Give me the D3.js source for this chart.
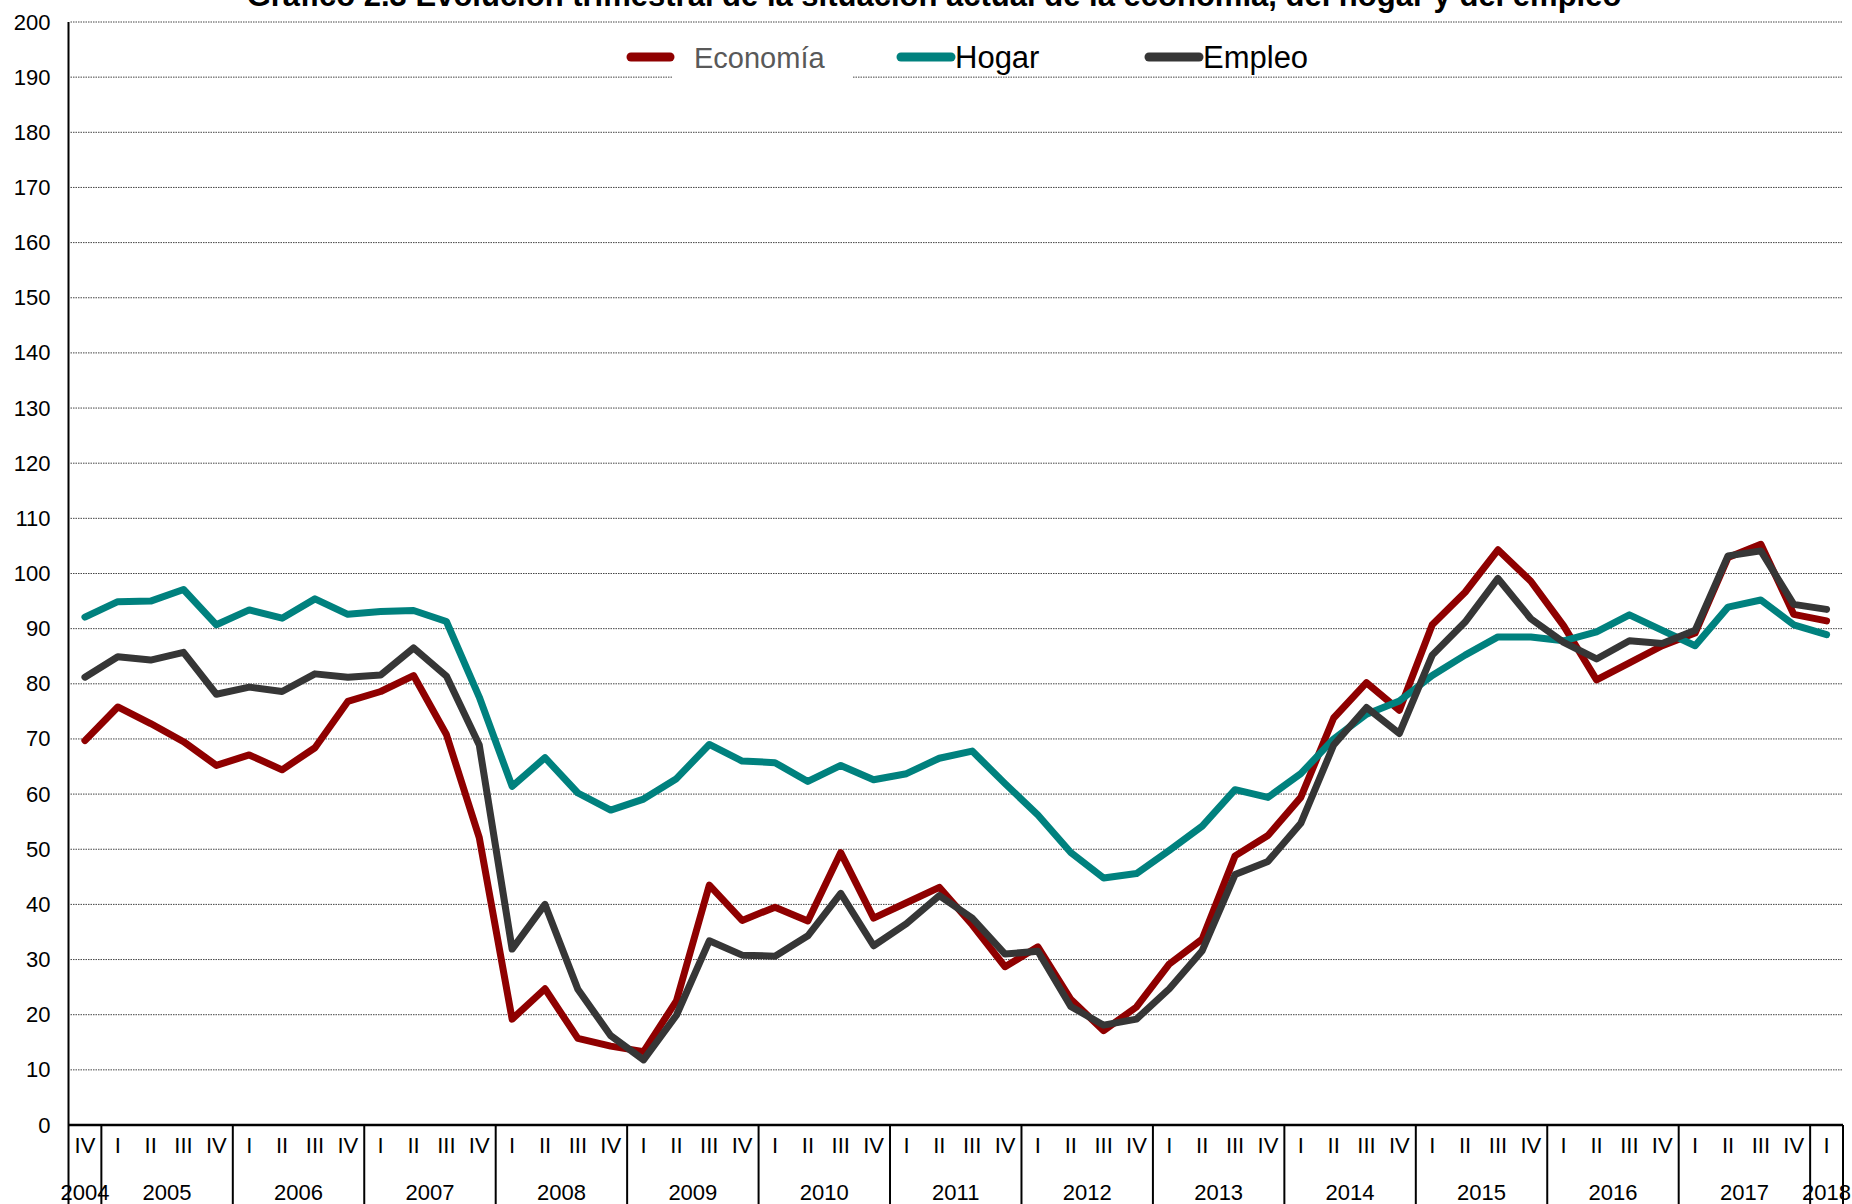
<!DOCTYPE html>
<html lang="es">
<head>
  <meta charset="UTF-8">
  <title>Gráfico 2.3</title>
  <script src="https://d3js.org/d3.v7.min.js"></script>
  <style>
    body {
      margin: 0;
      background: #fff;
    }
    svg {
      display: block;
      font-family: "Liberation Sans", Arial, sans-serif;
    }
  </style>
</head>
<body>
  <svg id="chart" width="1852" height="1204"></svg>

  <script>
    // Trimestres: 2004 IV ... 2018 I
    const years = ["2004", "2005", "2006", "2007", "2008", "2009", "2010", "2011",
                   "2012", "2013", "2014", "2015", "2016", "2017", "2018"];
    const quarterNames = ["I", "II", "III", "IV"];

    const economia = [
      69.7,
      75.8, 72.8, 69.5, 65.2,
      67.1, 64.4, 68.4, 76.8,
      78.6, 81.5, 70.8, 52.1,
      19.2, 24.7, 15.7, 14.3,
      13.3, 22.5, 43.5, 37.1,
      39.5, 37.0, 49.4, 37.5,
      40.3, 43.1, 36.3, 28.7,
      32.3, 22.8, 17.1, 21.4,
      29.2, 33.7, 48.8, 52.5,
      59.4, 73.8, 80.2, 75.2,
      90.7, 96.6, 104.3, 98.6,
      90.5, 80.7, 83.8, 86.9,
      89.2, 102.9, 105.3, 92.6,
      91.4
    ];
    const hogar = [
      92.1,
      94.9, 95.0, 97.1, 90.7,
      93.4, 91.9, 95.4, 92.6,
      93.1, 93.3, 91.3, 77.6,
      61.4, 66.6, 60.2, 57.1,
      59.1, 62.8, 69.0, 66.0,
      65.7, 62.3, 65.2, 62.6,
      63.7, 66.5, 67.8, 61.9,
      56.2, 49.4, 44.8, 45.6,
      49.8, 54.2, 60.8, 59.4,
      63.7, 70.0, 74.5, 76.9,
      81.5, 85.2, 88.5, 88.5,
      87.8, 89.4, 92.5, 89.7,
      86.9, 93.9, 95.2, 90.7,
      88.9
    ];
    const empleo = [
      81.2,
      84.9, 84.3, 85.7, 78.1,
      79.4, 78.6, 81.8, 81.2,
      81.6, 86.5, 81.4, 68.9,
      31.9, 40.0, 24.6, 16.2,
      11.8, 19.9, 33.4, 30.8,
      30.6, 34.3, 42.0, 32.5,
      36.5, 41.6, 37.5, 31.0,
      31.5, 21.5, 18.1, 19.2,
      24.7, 31.6, 45.4, 47.8,
      54.7, 68.9, 75.7, 71.0,
      85.2, 91.2, 99.1, 91.8,
      87.5, 84.5, 87.8, 87.3,
      89.7, 103.2, 104.1, 94.4,
      93.5
    ];
    const yTicks = d3.range(0, 201, 10);

    const periods = [];
    years.forEach((yr, k) => {
      quarterNames.forEach((q, j) => {
        if (k === 0 && j < 3) return;
        if (k === years.length - 1 && j > 0) return;
        periods.push({ year: yr, q: q });
      });
    });

    const series = [
      { name: "Economía", values: economia, color: "#8f0000" },
      { name: "Hogar", values: hogar, color: "#00817e" },
      { name: "Empleo", values: empleo, color: "#363636" }
    ];

    const margin = { top: 22, right: 9, bottom: 79, left: 68.5 };
    const width = 1852 - margin.left - margin.right;
    const height = 1204 - margin.top - margin.bottom;
    const tickFont = 22;

    const root = d3.select("#chart");

    // titulo (cortado arriba, como en el original)
    root.append("text")
      .attr("x", 934)
      .attr("y", 6)
      .attr("text-anchor", "middle")
      .attr("font-weight", "bold")
      .attr("font-size", 31)
      .text("Gráfico 2.3 Evolución trimestral de la situación actual de la economía, del hogar y del empleo");

    const svg = root.append("g")
      .attr("transform", `translate(${margin.left},${margin.top})`);

    const x = d3.scaleBand()
      .domain(d3.range(periods.length))
      .range([0, width]);
    const y = d3.scaleLinear().domain([0, 200]).range([height, 0]);
    const cx = i => x(i) + x.bandwidth() / 2;

    // rejilla punteada
    svg.append("g")
      .selectAll("line")
      .data(yTicks.filter(t => t > 0))
      .join("line")
      .attr("x1", 2)
      .attr("x2", width)
      .attr("y1", d => y(d))
      .attr("y2", d => y(d))
      .attr("stroke", "#444")
      .attr("stroke-width", 1)
      .attr("stroke-dasharray", "1.5,1");

    // eje y
    const yAxis = svg.append("g")
      .call(d3.axisLeft(y).tickValues(yTicks).tickSize(0).tickPadding(18));
    yAxis.select(".domain").remove();
    yAxis.selectAll("text").attr("font-size", tickFont).attr("font-family", null).attr("fill", "#000");

    // eje x: trimestres
    const xAxis = svg.append("g")
      .attr("transform", `translate(0,${height})`)
      .call(d3.axisBottom(x).tickFormat(i => periods[i].q).tickSize(0).tickPadding(12));
    xAxis.select(".domain").remove();
    xAxis.selectAll("text").attr("font-size", tickFont).attr("font-family", null).attr("fill", "#000");

    // separadores de año
    const bounds = [0];
    periods.forEach((p, i) => { if (p.q === "I") bounds.push(x(i)); });
    bounds.push(width);
    svg.append("g")
      .selectAll("line")
      .data(bounds)
      .join("line")
      .attr("x1", d => d)
      .attr("x2", d => d)
      .attr("y1", height)
      .attr("y2", height + margin.bottom)
      .attr("stroke", "#000")
      .attr("stroke-width", 2);

    // etiquetas de año centradas en sus trimestres
    const yearGroups = d3.groups(periods.map((p, i) => ({ year: p.year, i: i })), d => d.year);
    svg.append("g")
      .selectAll("text")
      .data(yearGroups)
      .join("text")
      .attr("x", d => (x(d[1][0].i) + x(d[1][d[1].length - 1].i) + x.bandwidth()) / 2)
      .attr("y", height + 75)
      .attr("text-anchor", "middle")
      .attr("font-size", tickFont)
      .text(d => d[0]);

    // eje vertical y linea base
    svg.append("line")
      .attr("x1", 0).attr("x2", 0)
      .attr("y1", 0).attr("y2", height)
      .attr("stroke", "#000").attr("stroke-width", 2);
    svg.append("line")
      .attr("x1", 0).attr("x2", width)
      .attr("y1", height).attr("y2", height)
      .attr("stroke", "#000").attr("stroke-width", 2.5);

    // series
    const line = d3.line()
      .x((d, i) => cx(i))
      .y(d => y(d));

    svg.append("g")
      .selectAll("path")
      .data(series)
      .join("path")
      .attr("d", d => line(d.values))
      .attr("fill", "none")
      .attr("stroke", d => d.color)
      .attr("stroke-width", 7)
      .attr("stroke-linejoin", "round")
      .attr("stroke-linecap", "round");

    // leyenda
    const legend = root.append("g");
    legend.append("rect")
      .attr("x", 673).attr("y", 32)
      .attr("width", 179).attr("height", 50)
      .attr("fill", "#fff");

    const legendItems = [
      { s: series[0], x1: 631, x2: 670, tx: 694, size: 29, fill: "#595959" },
      { s: series[1], x1: 901, x2: 951, tx: 955, size: 31, fill: "#000" },
      { s: series[2], x1: 1149, x2: 1199, tx: 1203, size: 31, fill: "#000" }
    ];
    legendItems.forEach(it => {
      legend.append("line")
        .attr("x1", it.x1).attr("x2", it.x2)
        .attr("y1", 57).attr("y2", 57)
        .attr("stroke", it.s.color)
        .attr("stroke-width", 9)
        .attr("stroke-linecap", "round");
      legend.append("text")
        .attr("x", it.tx)
        .attr("y", 68)
        .attr("font-size", it.size)
        .attr("fill", it.fill)
        .text(it.s.name);
    });
  </script>
</body>
</html>
